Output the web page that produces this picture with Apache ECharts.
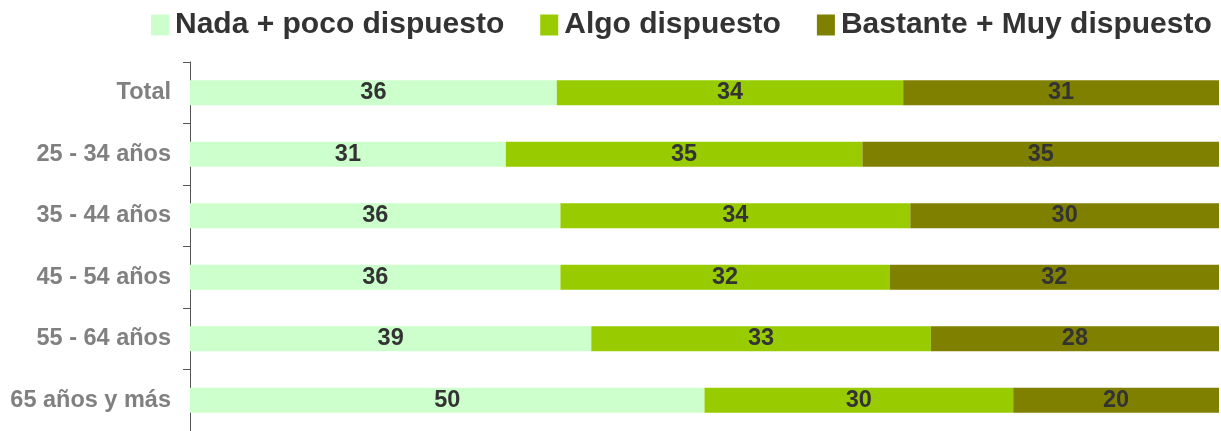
<!DOCTYPE html>
<html><head><meta charset="utf-8">
<script src="https://cdn.jsdelivr.net/npm/echarts@6/dist/echarts.min.js"></script>
<style>html,body{margin:0;padding:0;background:#fff}#c{width:1221px;height:431px}</style>
</head><body><div id="c"></div>
<script>
const categories = ['Total', '25 - 34 años', '35 - 44 años', '45 - 54 años', '55 - 64 años', '65 años y más'];
const seriesNames = ['Nada + poco dispuesto', 'Algo dispuesto', 'Bastante + Muy dispuesto'];
const nadaPoco = [36, 31, 36, 36, 39, 50];
const algo = [34, 35, 34, 32, 33, 30];
const bastanteMuy = [31, 35, 30, 32, 28, 20];
const colors = ['#CCFFCC', '#99CC00', '#808000'];

const raw = [nadaPoco, algo, bastanteMuy];
const totals = categories.map((_, i) => raw.reduce((s, arr) => s + arr[i], 0));
const FONT = 'Liberation Sans, Arial, sans-serif';

const chart = echarts.init(document.getElementById('c'));
chart.setOption({
  animation: false,
  legend: {
    left: 146, top: 5,
    itemWidth: 18, itemHeight: 21, itemGap: 36,
    icon: 'rect',
    textStyle: { fontFamily: FONT, fontWeight: 'bold', fontSize: 30, color: '#333333', padding: [0, 0, 0, 1] },
    data: seriesNames
  },
  grid: { left: 190, right: 2, top: 62, bottom: 0 },
  xAxis: { type: 'value', min: 0, max: 100, show: false },
  yAxis: {
    type: 'category', inverse: true, data: categories,
    axisLine: { show: true, lineStyle: { color: '#555555', width: 1 } },
    axisTick: { show: true, length: 7, lineStyle: { color: '#555555' } },
    axisLabel: { margin: 19, fontFamily: FONT, fontWeight: 'bold', fontSize: 23.5, color: '#808080' }
  },
  series: raw.map((arr, k) => ({
    name: seriesNames[k], type: 'bar', stack: 'a', barWidth: '41%',
    itemStyle: { color: colors[k] },
    data: arr.map((v, i) => ({ value: v / totals[i] * 100, raw: v })),
    label: {
      show: true, position: 'inside',
      fontFamily: FONT, fontWeight: 'bold', fontSize: 23.5, color: '#333333',
      formatter: p => String(p.data.raw)
    }
  }))
});
</script></body></html>
